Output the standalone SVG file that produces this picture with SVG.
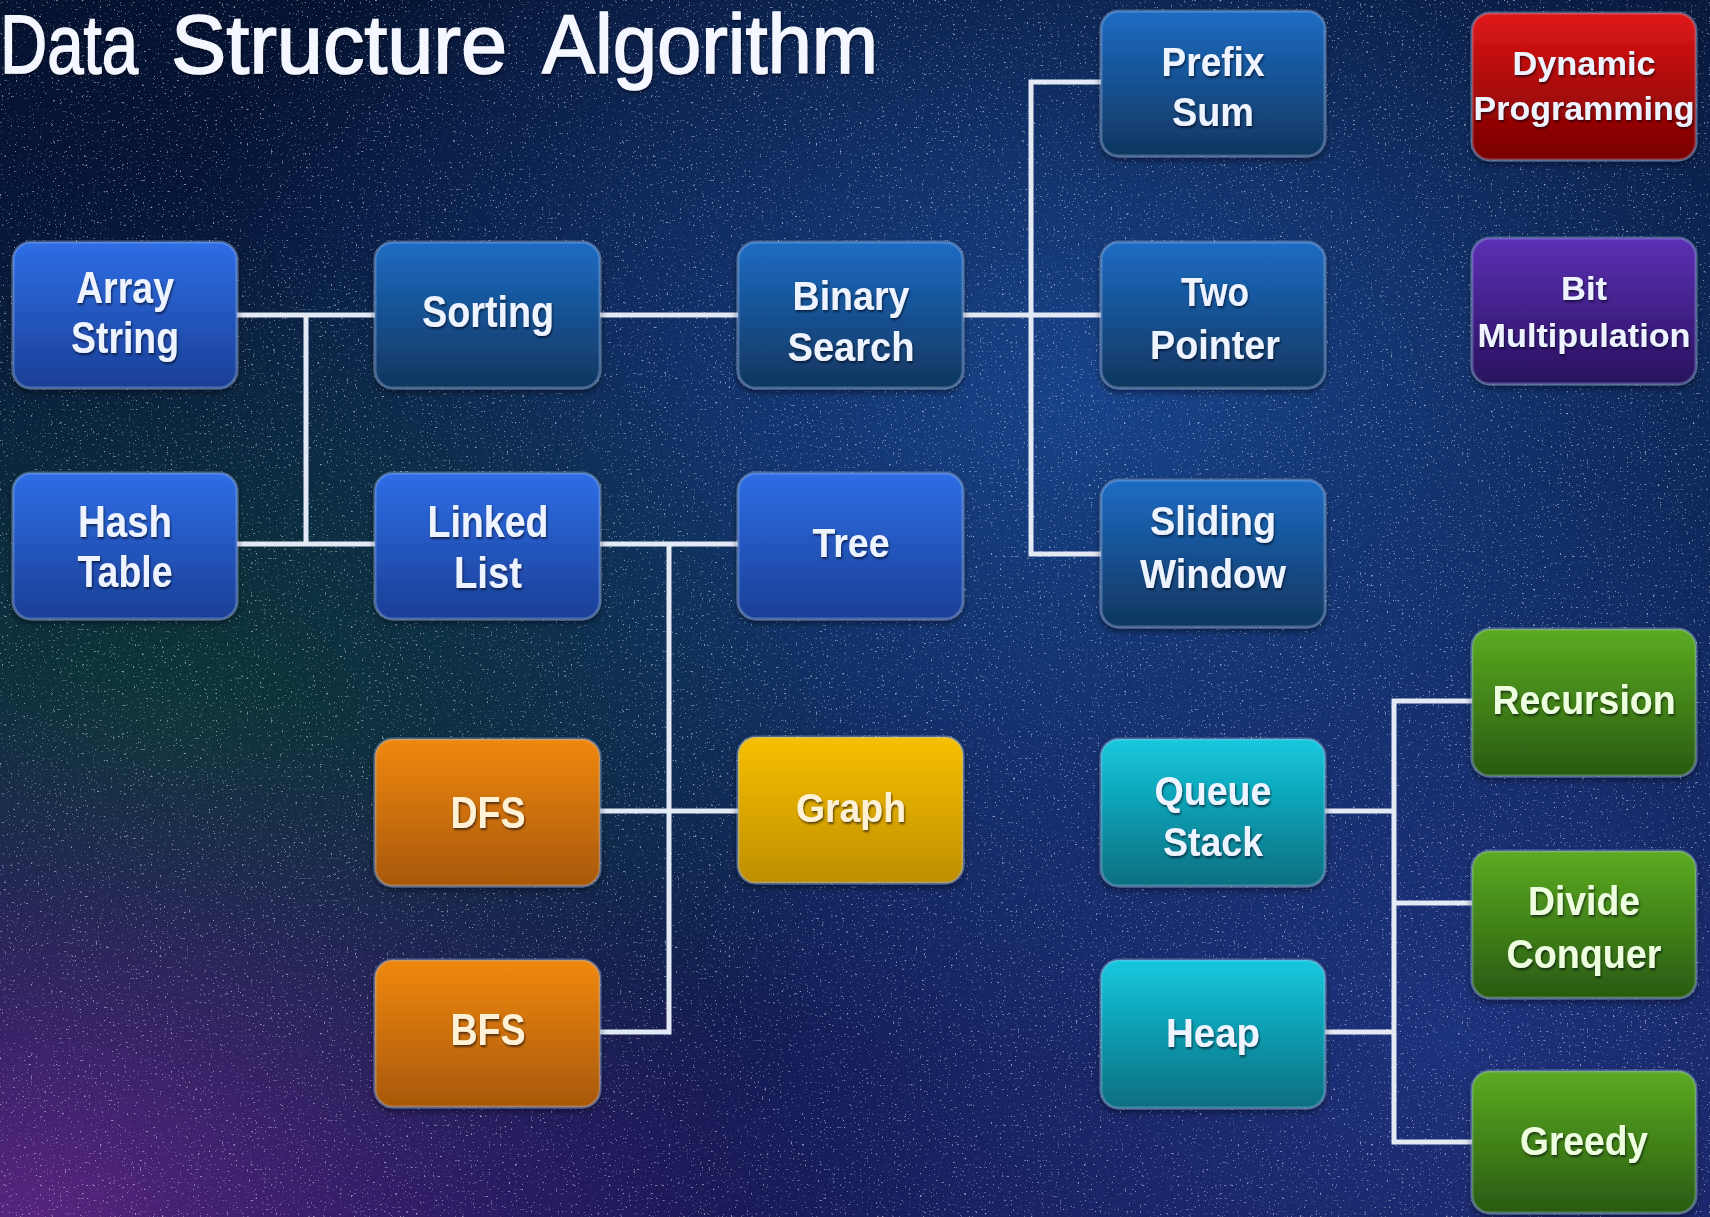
<svg xmlns="http://www.w3.org/2000/svg" width="1710" height="1217" viewBox="0 0 1710 1217">
<defs>
  <linearGradient id="bgBase" x1="0" y1="0" x2="0" y2="1">
    <stop offset="0" stop-color="#051230"/>
    <stop offset="0.5" stop-color="#091d48"/>
    <stop offset="1" stop-color="#181a56"/>
  </linearGradient>
  <radialGradient id="bgBlue" cx="0.64" cy="0.32" r="0.55">
    <stop offset="0" stop-color="#1b4a96" stop-opacity="0.85"/>
    <stop offset="1" stop-color="#1b4a96" stop-opacity="0"/>
  </radialGradient>
  <radialGradient id="bgTeal" cx="0.1" cy="0.6" r="0.42">
    <stop offset="0" stop-color="#0d3a34" stop-opacity="0.9"/>
    <stop offset="1" stop-color="#0d3a34" stop-opacity="0"/>
  </radialGradient>
  <radialGradient id="bgPurple" cx="0.02" cy="1.0" r="0.45">
    <stop offset="0" stop-color="#5e2682" stop-opacity="0.9"/>
    <stop offset="1" stop-color="#3e1a72" stop-opacity="0"/>
  </radialGradient>
  <radialGradient id="bgBlue2" cx="0.85" cy="0.85" r="0.45">
    <stop offset="0" stop-color="#1f3a8a" stop-opacity="0.75"/>
    <stop offset="1" stop-color="#1f3a8a" stop-opacity="0"/>
  </radialGradient>
  <filter id="starfield" x="0" y="0" width="100%" height="100%" filterUnits="userSpaceOnUse">
    <feTurbulence type="fractalNoise" baseFrequency="0.45" numOctaves="2" seed="11" result="n"/>
    <feColorMatrix in="n" type="matrix" values="0 0 0 0 0.85  0 0 0 0 0.9  0 0 0 0 1  1 0 0 0 0"/>
    <feComponentTransfer>
      <feFuncA type="linear" slope="7" intercept="-4.7"/>
    </feComponentTransfer>
  </filter>

  <linearGradient id="gBlueA" x1="0" y1="0" x2="0" y2="1">
    <stop offset="0" stop-color="#2e6ee6"/>
    <stop offset="1" stop-color="#1a3f96"/>
  </linearGradient>
  <linearGradient id="gBlueB" x1="0" y1="0" x2="0" y2="1">
    <stop offset="0" stop-color="#1d6cc4"/>
    <stop offset="1" stop-color="#10365f"/>
  </linearGradient>
  <linearGradient id="gOrange" x1="0" y1="0" x2="0" y2="1">
    <stop offset="0" stop-color="#f08810"/>
    <stop offset="1" stop-color="#a85806"/>
  </linearGradient>
  <linearGradient id="gYellow" x1="0" y1="0" x2="0" y2="1">
    <stop offset="0" stop-color="#f7c000"/>
    <stop offset="1" stop-color="#bf8e00"/>
  </linearGradient>
  <linearGradient id="gTeal" x1="0" y1="0" x2="0" y2="1">
    <stop offset="0" stop-color="#14c8de"/>
    <stop offset="1" stop-color="#0a6e80"/>
  </linearGradient>
  <linearGradient id="gGreen" x1="0" y1="0" x2="0" y2="1">
    <stop offset="0" stop-color="#5cab22"/>
    <stop offset="1" stop-color="#285a10"/>
  </linearGradient>
  <linearGradient id="gRed" x1="0" y1="0" x2="0" y2="1">
    <stop offset="0" stop-color="#e01616"/>
    <stop offset="1" stop-color="#780000"/>
  </linearGradient>
  <linearGradient id="gPurple" x1="0" y1="0" x2="0" y2="1">
    <stop offset="0" stop-color="#5c30b4"/>
    <stop offset="1" stop-color="#28125e"/>
  </linearGradient>
  <filter id="shadow" x="-10%" y="-10%" width="120%" height="125%">
    <feDropShadow dx="0" dy="3" stdDeviation="3" flood-color="#000010" flood-opacity="0.6"/>
  </filter>
  <filter id="tshadow" x="-10%" y="-20%" width="120%" height="150%">
    <feDropShadow dx="1" dy="2" stdDeviation="1" flood-color="#000018" flood-opacity="0.6"/>
  </filter>
  <style>
    .node rect { stroke: rgba(170,195,235,0.35); stroke-width: 3; filter: url(#shadow); }
    .lbl { font-family: "Liberation Sans", Arial, sans-serif; font-weight: bold; font-size: 40px; fill: #eef4ff; text-anchor: middle; filter: url(#tshadow); }
    .big { font-size: 44px; }
    .sm { font-size: 34px; }
    .warm { fill: #fff1d6; }
    .lime { fill: #eeffe0; }
    .conn path { fill: none; stroke: #e4e9f6; stroke-width: 5; }
    .title { font-family: "Liberation Sans", Arial, sans-serif; font-size: 84px; fill: #f4f7ff; stroke: #f4f7ff; stroke-width: 1.5; filter: url(#tshadow); }
  </style>
</defs>

<rect width="1710" height="1217" fill="url(#bgBase)"/>
<rect width="1710" height="1217" fill="url(#bgBlue)"/>
<rect width="1710" height="1217" fill="url(#bgTeal)"/>
<rect width="1710" height="1217" fill="url(#bgBlue2)"/>
<rect width="1710" height="1217" fill="url(#bgPurple)"/>
<rect width="1710" height="1217" fill="#ffffff" filter="url(#starfield)" opacity="0.55"/>

<text class="title" x="0" y="73" textLength="138" lengthAdjust="spacingAndGlyphs">Data</text>
<text class="title" x="171" y="73" textLength="336" lengthAdjust="spacingAndGlyphs">Structure</text>
<text class="title" x="542" y="73" textLength="336" lengthAdjust="spacingAndGlyphs">Algorithm</text>

<g id="connectors" class="conn">
  <path d="M237 315 H375"/>
  <path d="M306 315 V544"/>
  <path d="M237 544 H375"/>
  <path d="M600 315 H738"/>
  <path d="M963 315 H1101"/>
  <path d="M1101 82 H1031 V554 H1101"/>
  <path d="M600 544 H738"/>
  <path d="M669 544 V1032 H600"/>
  <path d="M600 811 H738"/>
  <path d="M1325 811 H1394"/>
  <path d="M1472 701 H1394 V1142 H1472"/>
  <path d="M1394 903 H1472"/>
  <path d="M1325 1032 H1394"/>
</g>

<g id="array-string" class="node"><rect x="13" y="242" width="224" height="146" rx="18" fill="url(#gBlueA)"/>
  <text class="lbl big" x="125" y="303" textLength="98" lengthAdjust="spacingAndGlyphs">Array</text>
  <text class="lbl big" x="125" y="353" textLength="108" lengthAdjust="spacingAndGlyphs">String</text></g>
<g id="hash-table" class="node"><rect x="13" y="473" width="224" height="146" rx="18" fill="url(#gBlueA)"/>
  <text class="lbl big" x="125" y="537" textLength="94" lengthAdjust="spacingAndGlyphs">Hash</text>
  <text class="lbl big" x="125" y="587" textLength="95" lengthAdjust="spacingAndGlyphs">Table</text></g>
<g id="sorting" class="node"><rect x="375" y="242" width="225" height="146" rx="18" fill="url(#gBlueB)"/>
  <text class="lbl big" x="488" y="327" textLength="132" lengthAdjust="spacingAndGlyphs">Sorting</text></g>
<g id="linked-list" class="node"><rect x="375" y="473" width="225" height="146" rx="18" fill="url(#gBlueA)"/>
  <text class="lbl big" x="488" y="537" textLength="121" lengthAdjust="spacingAndGlyphs">Linked</text>
  <text class="lbl big" x="488" y="588" textLength="68" lengthAdjust="spacingAndGlyphs">List</text></g>
<g id="binary-search" class="node"><rect x="738" y="242" width="225" height="146" rx="18" fill="url(#gBlueB)"/>
  <text class="lbl" x="851" y="310" textLength="117" lengthAdjust="spacingAndGlyphs">Binary</text>
  <text class="lbl" x="851" y="361" textLength="127" lengthAdjust="spacingAndGlyphs">Search</text></g>
<g id="tree" class="node"><rect x="738" y="473" width="225" height="146" rx="18" fill="url(#gBlueA)"/>
  <text class="lbl" x="851" y="557" textLength="77" lengthAdjust="spacingAndGlyphs">Tree</text></g>
<g id="prefix-sum" class="node"><rect x="1101" y="11" width="224" height="145" rx="18" fill="url(#gBlueB)"/>
  <text class="lbl" x="1213" y="76" textLength="103" lengthAdjust="spacingAndGlyphs">Prefix</text>
  <text class="lbl" x="1213" y="126" textLength="82" lengthAdjust="spacingAndGlyphs">Sum</text></g>
<g id="two-pointer" class="node"><rect x="1101" y="242" width="224" height="146" rx="18" fill="url(#gBlueB)"/>
  <text class="lbl" x="1215" y="306" textLength="68" lengthAdjust="spacingAndGlyphs">Two</text>
  <text class="lbl" x="1215" y="359" textLength="130" lengthAdjust="spacingAndGlyphs">Pointer</text></g>
<g id="sliding-window" class="node"><rect x="1101" y="480" width="224" height="147" rx="18" fill="url(#gBlueB)"/>
  <text class="lbl" x="1213" y="535" textLength="126" lengthAdjust="spacingAndGlyphs">Sliding</text>
  <text class="lbl" x="1213" y="588" textLength="146" lengthAdjust="spacingAndGlyphs">Window</text></g>
<g id="dynamic-programming" class="node"><rect x="1472" y="13" width="224" height="147" rx="18" fill="url(#gRed)"/>
  <text class="lbl sm" x="1584" y="75" textLength="143" lengthAdjust="spacingAndGlyphs">Dynamic</text>
  <text class="lbl sm" x="1584" y="120" textLength="221" lengthAdjust="spacingAndGlyphs">Programming</text></g>
<g id="bit-multipulation" class="node"><rect x="1472" y="238" width="224" height="146" rx="18" fill="url(#gPurple)"/>
  <text class="lbl sm" x="1584" y="300" textLength="46" lengthAdjust="spacingAndGlyphs">Bit</text>
  <text class="lbl sm" x="1584" y="347" textLength="213" lengthAdjust="spacingAndGlyphs">Multipulation</text></g>
<g id="dfs" class="node"><rect x="375" y="739" width="225" height="147" rx="18" fill="url(#gOrange)"/>
  <text class="lbl big warm" x="488" y="828" textLength="75" lengthAdjust="spacingAndGlyphs">DFS</text></g>
<g id="graph" class="node"><rect x="738" y="737" width="225" height="146" rx="18" fill="url(#gYellow)"/>
  <text class="lbl warm" x="851" y="822" textLength="110" lengthAdjust="spacingAndGlyphs">Graph</text></g>
<g id="bfs" class="node"><rect x="375" y="960" width="225" height="147" rx="18" fill="url(#gOrange)"/>
  <text class="lbl big warm" x="488" y="1045" textLength="75" lengthAdjust="spacingAndGlyphs">BFS</text></g>
<g id="queue-stack" class="node"><rect x="1101" y="739" width="224" height="147" rx="18" fill="url(#gTeal)"/>
  <text class="lbl" x="1213" y="805" textLength="117" lengthAdjust="spacingAndGlyphs">Queue</text>
  <text class="lbl" x="1213" y="856" textLength="100" lengthAdjust="spacingAndGlyphs">Stack</text></g>
<g id="heap" class="node"><rect x="1101" y="960" width="224" height="148" rx="18" fill="url(#gTeal)"/>
  <text class="lbl" x="1213" y="1047" textLength="94" lengthAdjust="spacingAndGlyphs">Heap</text></g>
<g id="recursion" class="node"><rect x="1472" y="629" width="224" height="147" rx="18" fill="url(#gGreen)"/>
  <text class="lbl lime" x="1584" y="714" textLength="183" lengthAdjust="spacingAndGlyphs">Recursion</text></g>
<g id="divide-conquer" class="node"><rect x="1472" y="851" width="224" height="147" rx="18" fill="url(#gGreen)"/>
  <text class="lbl lime" x="1584" y="915" textLength="112" lengthAdjust="spacingAndGlyphs">Divide</text>
  <text class="lbl lime" x="1584" y="968" textLength="155" lengthAdjust="spacingAndGlyphs">Conquer</text></g>
<g id="greedy" class="node"><rect x="1472" y="1071" width="224" height="142" rx="18" fill="url(#gGreen)"/>
  <text class="lbl lime" x="1584" y="1155" textLength="128" lengthAdjust="spacingAndGlyphs">Greedy</text></g>
</svg>
